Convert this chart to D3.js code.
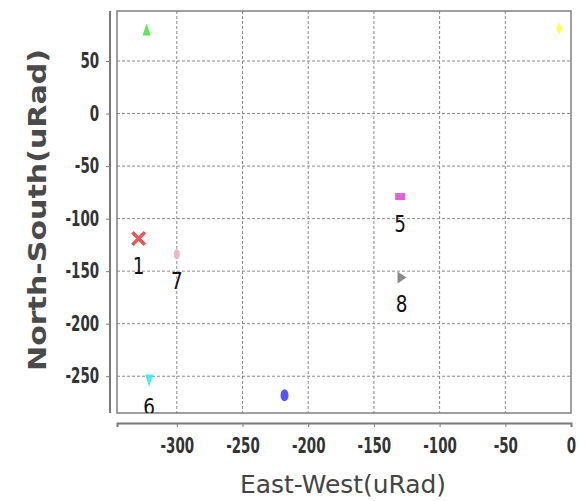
<!DOCTYPE html>
<html>
<head>
<meta charset="utf-8">
<script src="https://cdn.jsdelivr.net/npm/d3@7"></script>
<style>
  body { margin: 0; background: #fff; }
  text { font-family: "DejaVu Sans", sans-serif; }
</style>
</head>
<body>
<svg id="chart" width="586" height="501"></svg>
<script>
// point ids and positions (uRad)
const ids = ["1", "2", "3", "4", "5", "6", "7", "8"];
const eastWest = [-329, -218, -323, -9, -130, -321, -300, -129];
const northSouth = [-119, -268, 80, 81, -79, -254, -134, -156];
const colors = ["#f25555", "#5555ff", "#55ee55", "#ffff55", "#e060e0", "#44eeee", "#f0b4c4", "#8a8a8a"];
const shapes = ["cross", "ellipse", "triUp", "diamond", "rect", "triDown", "ellipseV", "triRight"];
const showLabel = [true, true, false, false, true, true, true, true];

const xTicks = [-300, -250, -200, -150, -100, -50, 0];
const yTicks = [50, 0, -50, -100, -150, -200, -250];

const svg = d3.select("#chart");
const plotL = 117, plotR = 571, plotT = 11, plotB = 413;

const x = d3.scaleLinear().domain([-345.5, 0]).range([plotL, plotR]);
const y = d3.scaleLinear().domain([-285, 97.6]).range([plotB, plotT]);

svg.append("defs").append("clipPath").attr("id", "plot-clip")
    .append("rect").attr("x", plotL).attr("y", plotT)
    .attr("width", plotR - plotL).attr("height", plotB - plotT);

// grid
const grid = svg.append("g");
grid.selectAll(".gx").data(xTicks.filter(t => t !== 0)).enter().append("line")
    .attr("x1", d => x(d)).attr("x2", d => x(d))
    .attr("y1", plotT).attr("y2", plotB)
    .style("stroke", "#8c8c8c").style("stroke-dasharray", "3,2").style("stroke-width", 1);
grid.selectAll(".gy").data(yTicks).enter().append("line")
    .attr("y1", d => y(d)).attr("y2", d => y(d))
    .attr("x1", plotL).attr("x2", plotR)
    .style("stroke", "#8c8c8c").style("stroke-dasharray", "3,2").style("stroke-width", 1);

// plot outline
svg.append("rect")
    .attr("x", plotL).attr("y", plotT)
    .attr("width", plotR - plotL).attr("height", plotB - plotT)
    .style("fill", "none").style("stroke", "#808080").style("stroke-width", 1.5);

// axes
const fmt = d => String(d);
const xAxis = d3.axisBottom(x).tickValues(xTicks).tickFormat(fmt).tickSize(4).tickPadding(11).tickSizeOuter(4);
const yAxis = d3.axisLeft(y).tickValues(yTicks).tickFormat(fmt).tickSize(4).tickPadding(0).tickSizeOuter(0);

const gx = svg.append("g").attr("transform", `translate(0,${plotB + 10})`).call(xAxis);
const gy = svg.append("g").attr("transform", `translate(${plotL - 7},0)`).call(yAxis);
gy.select(".domain").attr("d", `M0,${plotT}V${plotB}`);

[gx, gy].forEach(g => {
    g.select(".domain").style("stroke", "#7a7a7a").style("stroke-width", 2);
    g.selectAll(".tick line").style("stroke", "#7a7a7a");
    g.selectAll(".tick text")
        .style("font-family", "'DejaVu Sans', sans-serif")
        .style("font-size", "21px").style("font-weight", "bold").style("fill", "#333")
        .attr("transform", "scale(0.64,1)");
});
gy.selectAll(".tick text").attr("x", -17);

// points
const pts = svg.append("g").attr("clip-path", "url(#plot-clip)");
const data = ids.map((id, i) => ({ id, ew: eastWest[i], ns: northSouth[i], c: colors[i], s: shapes[i], lab: showLabel[i] }));

function shapePath(s) {
    switch (s) {
        case "cross": return "M-7,-5 L-5,-7 L0,-2 L5,-7 L7,-5 L2,0 L7,5 L5,7 L0,2 L-5,7 L-7,5 L-2,0 Z";
        case "triUp": return "M0,-6 L4,6 L-4,6 Z";
        case "triDown": return "M-4,-6 L4,-6 L0,6 Z";
        case "triRight": return "M-4,-6 L5,0 L-4,6 Z";
        case "diamond": return "M0,-6 L3.5,0 L0,6 L-3.5,0 Z";
        case "rect": return "M-5,-3.5 L5,-3.5 L5,3.5 L-5,3.5 Z";
        case "ellipse": return "M-4,0 A4,6 0 1,0 4,0 A4,6 0 1,0 -4,0 Z";
        case "ellipseV": return "M-3,0 A3,5 0 1,0 3,0 A3,5 0 1,0 -3,0 Z";
    }
}

pts.selectAll("path.pt").data(data).enter().append("path")
    .attr("class", "pt")
    .attr("d", d => shapePath(d.s))
    .attr("transform", d => `translate(${x(d.ew)},${y(d.ns)})`)
    .style("fill", d => d.c)
    .style("stroke", d => d.s === "cross" ? "#d04848" : "none")
    .style("stroke-width", 0.8);

pts.selectAll("text.lab").data(data.filter(d => d.lab)).enter().append("text")
    .attr("class", "lab")
    .attr("transform", d => `translate(${x(d.ew)},${y(d.ns) + 35}) scale(0.8,1)`)
    .attr("text-anchor", "middle")
    .style("font-family", "'DejaVu Sans', sans-serif")
    .style("font-size", "23px")
    .style("fill", "#111")
    .text(d => d.id);

// axis titles
svg.append("text")
    .attr("x", 343).attr("y", 493)
    .attr("text-anchor", "middle")
    .attr("textLength", 206).attr("lengthAdjust", "spacingAndGlyphs")
    .style("font-family", "'DejaVu Sans', sans-serif")
    .style("font-size", "24px").style("fill", "#444")
    .text("East-West(uRad)");

svg.append("text")
    .attr("transform", "translate(46,210) rotate(-90)")
    .attr("text-anchor", "middle")
    .attr("textLength", 322).attr("lengthAdjust", "spacingAndGlyphs")
    .style("font-family", "'DejaVu Sans', sans-serif")
    .style("font-size", "24px").style("font-weight", "bold").style("fill", "#4a4a4a")
    .text("North-South(uRad)");
</script>
</body>
</html>
